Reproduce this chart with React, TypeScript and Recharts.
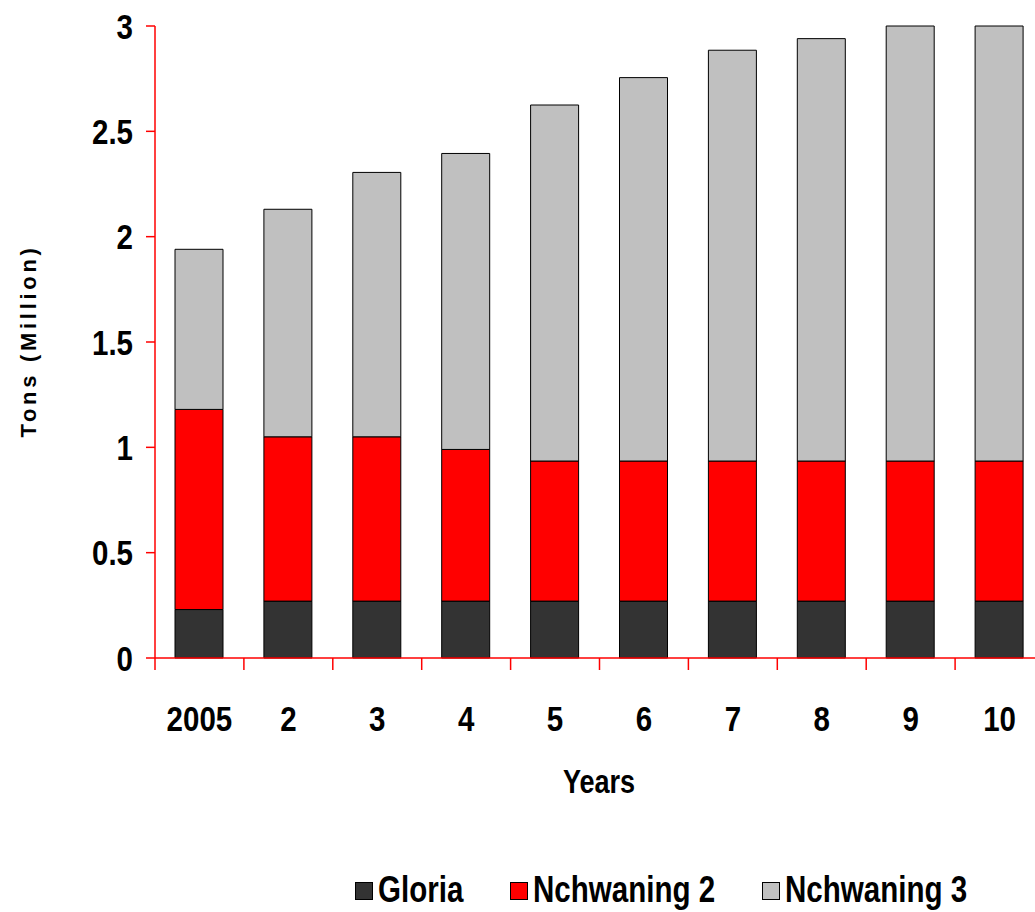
import { BarChart, Bar, XAxis, YAxis } from 'recharts';

const YEARS = ['2005', '2', '3', '4', '5', '6', '7', '8', '9', '10'];
const GLORIA = [0.23, 0.27, 0.27, 0.27, 0.27, 0.27, 0.27, 0.27, 0.27, 0.27];
const NCHWANING_2 = [0.95, 0.78, 0.78, 0.72, 0.665, 0.665, 0.665, 0.665, 0.665, 0.665];
const NCHWANING_3 = [0.76, 1.08, 1.255, 1.405, 1.69, 1.82, 1.95, 2.005, 2.065, 2.065];
const Y_TICKS = [0, 0.5, 1, 1.5, 2, 2.5, 3];

const SERIES = [
  { key: 'gloria', name: 'Gloria', color: '#333333' },
  { key: 'n2', name: 'Nchwaning 2', color: '#FF0000' },
  { key: 'n3', name: 'Nchwaning 3', color: '#C0C0C0' },
];

// no Arial Narrow here: Liberation Sans squeezed to 82% is the same shape
const SANS = "'Liberation Sans', Arial, sans-serif";
const NARROW_X = 0.82;
const RED = '#FF0000';

const CHART_W = 1060;
const CHART_H = 912;
const Y_AXIS_W = 155;
const MARGIN = { top: 26, right: 16, left: 0, bottom: 194 };
const HALF_BAND = (CHART_W - Y_AXIS_W - MARGIN.left - MARGIN.right) / YEARS.length / 2;
const LEGEND_X = [355, 510, 762];

const data = YEARS.map((year, i) => ({
  year,
  gloria: GLORIA[i],
  n2: NCHWANING_2[i],
  n3: NCHWANING_3[i],
}));

const NarrowText = ({ x, y, anchor = 'middle', size = 36, dy, children }: any) => (
  <text
    transform={`translate(${x} ${y}) scale(${NARROW_X} 1)`}
    textAnchor={anchor}
    dy={dy}
    fill="#000"
    fontSize={size}
    fontWeight={700}
    fontFamily={SANS}
  >
    {children}
  </text>
);

// ticks sit between the categories, like the old Excel chart
const XTick = ({ x, y, payload }: any) => (
  <g>
    <line x1={x - HALF_BAND} x2={x - HALF_BAND} y1={y - 12} y2={y} stroke={RED} strokeWidth={1.5} />
    <NarrowText x={x} y={y + 61}>{payload.value}</NarrowText>
  </g>
);

const YTick = ({ x, y, payload }: any) => (
  <NarrowText x={x} y={y} anchor="end" dy="0.355em">
    {String(payload.value)}
  </NarrowText>
);

const App = () => (
  <div
    style={{
      position: 'absolute',
      left: 0,
      top: 0,
      width: 1035,
      height: 912,
      overflow: 'hidden',
      background: '#fff',
    }}
  >
    <BarChart width={CHART_W} height={CHART_H} data={data} margin={MARGIN}>
      <XAxis
        dataKey="year"
        height={60}
        axisLine={{ stroke: RED, strokeWidth: 1.5 }}
        tickLine={false}
        tickSize={12}
        tickMargin={0}
        interval={0}
        tick={<XTick />}
        label={{
          content: () => (
            <NarrowText x={599} y={793} size={33}>
              Years
            </NarrowText>
          ),
        }}
      />
      <YAxis
        width={Y_AXIS_W}
        domain={[0, 3]}
        ticks={Y_TICKS}
        interval={0}
        axisLine={{ stroke: RED, strokeWidth: 1.5 }}
        tickLine={{ stroke: RED, strokeWidth: 1.5 }}
        tickSize={9}
        tickMargin={13}
        tick={<YTick />}
        label={{
          content: () => (
            <text
              x={28}
              y={341}
              transform="rotate(-90 28 341)"
              textAnchor="middle"
              dominantBaseline="central"
              fill="#000"
              fontSize={22}
              fontWeight={700}
              letterSpacing={3.7}
              fontFamily={SANS}
            >
              Tons (Million)
            </text>
          ),
        }}
      />
      {SERIES.map((s) => (
        <Bar
          key={s.key}
          dataKey={s.key}
          name={s.name}
          stackId="a"
          fill={s.color}
          stroke="#000"
          strokeWidth={1}
          barSize={48}
          isAnimationActive={false}
        />
      ))}
    </BarChart>
    {SERIES.map((s, i) => (
      <div key={s.key}>
        <span
          style={{
            position: 'absolute',
            left: LEGEND_X[i],
            top: 882,
            width: 16,
            height: 16,
            background: s.color,
            border: '1px solid #000',
          }}
        />
        <span
          style={{
            position: 'absolute',
            left: LEGEND_X[i] + 23,
            top: 872,
            whiteSpace: 'nowrap',
            fontFamily: SANS,
            fontWeight: 700,
            fontSize: 36,
            lineHeight: '36px',
            color: '#000',
            transform: `scaleX(${NARROW_X})`,
            transformOrigin: 'left top',
          }}
        >
          {s.name}
        </span>
      </div>
    ))}
  </div>
);

export default App;
